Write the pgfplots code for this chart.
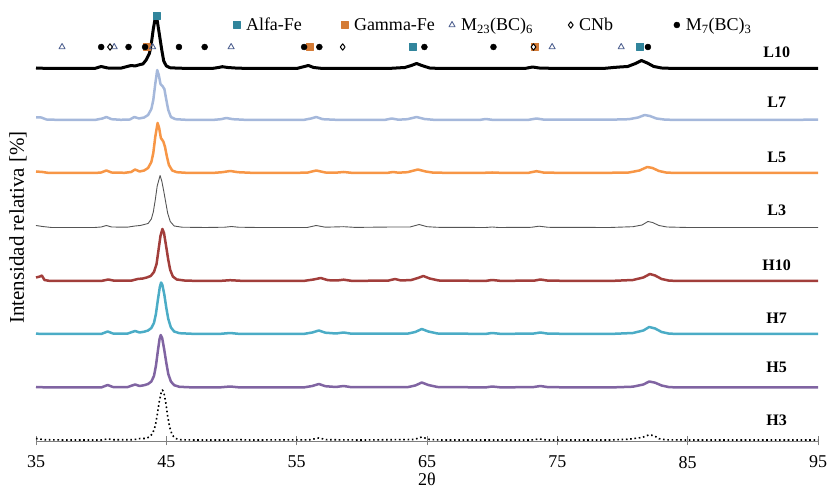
\documentclass[border=0pt]{standalone}
\usepackage{fontspec}
\setmainfont{Liberation Serif}
\usepackage{pgfplots}
\pgfplotsset{compat=1.18}
\definecolor{alfa}{HTML}{31859C}
\definecolor{gamma}{HTML}{D47B36}
\definecolor{tri}{HTML}{4F6190}
\definecolor{cL7}{HTML}{A5B8DB}
\definecolor{cL5}{HTML}{F79646}
\definecolor{cL3}{HTML}{555555}
\definecolor{cH10}{HTML}{A23E3B}
\definecolor{cH7}{HTML}{4BACC6}
\definecolor{cH5}{HTML}{8064A2}
\newcommand{\fs}{\fontsize{18}{20}\selectfont}
\newcommand{\lb}{\fontsize{16}{18}\selectfont\bfseries}
\begin{document}
\begin{tikzpicture}
\useasboundingbox (-36pt,-48pt) rectangle (791pt,441pt);
\begin{axis}[
  at={(0pt,0pt)}, anchor=south west,
  scale only axis, width=782pt, height=441pt,
  xmin=35, xmax=95, ymin=-1, ymax=440,
  axis x line*=bottom, axis y line=none,
  clip=false,
  xtick={35,45,55,65,75,85,95},
  tick align=center, major tick length=9pt,
  tick style={color=gray, line width=0.8pt},
  axis line style={color=gray, line width=0.8pt},
  /pgf/number format/assume math mode=true,
  tick label style={font=\fs, text=black},
  xticklabel style={yshift=-7pt},
  xlabel={2θ},
  xlabel style={font=\fs, at={(axis description cs:0.5,0)}, anchor=center, yshift=-38pt},
  legend columns=5,
  legend style={at={(axis cs:50.1,415)}, anchor=west, draw=none, fill=none, inner sep=0pt, font=\fs, /tikz/every even column/.append style={column sep=0pt}},
  legend cell align=left,
  every axis plot/.append style={line join=round},
]
% L10
\addplot[forget plot, black, line width=3pt] coordinates {(35,372)(36,371.5)(37,371.5)(38,371.5)(39.5,371.5)(40.0,373.5)(40.5,372)(41.5,371.8)(42.0,373.5)(42.3,374.5)(42.6,374)(43.0,375.5)(43.2,376)(43.45,380)(43.7,386.5)(43.85,396.5)(44.0,411)(44.13,420.5)(44.2,422)(44.3,419.5)(44.45,407)(44.65,390)(44.8,379)(45.0,374)(45.3,372.2)(46,371.8)(47,371.5)(48.5,371.5)(49.0,372.5)(49.3,373.3)(49.7,372.5)(50.5,371.8)(52,371.5)(55,371.5)(55.6,373.5)(55.9,374.5)(56.3,372.5)(57,371.5)(59,371.5)(62,371.5)(63.3,372.5)(63.8,374.5)(64.2,376.5)(64.6,374.5)(65.2,372)(66,371.5)(70,371.5)(72.5,371.5)(73.1,373)(73.6,372)(75,371.5)(78.5,371.5)(79.3,372.5)(79.8,373)(80.4,373.5)(81.0,376.5)(81.45,379.5)(81.9,377)(82.4,373.5)(83,372)(84,371.5)(90,371.5)(95,371.5)};
% L7
\addplot[forget plot, cL7, line width=2.5pt] coordinates {(35,322.5)(35.4,322.5)(35.8,320.5)(37,320)(39.5,320)(40.1,321.5)(40.4,323)(40.8,320.8)(41.5,320.2)(42.2,320.5)(42.55,323)(42.9,321.5)(43.3,322.5)(43.6,325)(43.85,331)(44.0,340)(44.15,356)(44.3,370)(44.42,365)(44.55,356)(44.7,354)(44.85,351)(45.0,340)(45.15,330)(45.35,323)(45.7,320.8)(46.5,320.2)(48.5,320)(49.2,320.8)(49.6,322)(50.1,320.8)(51,320.2)(53,320)(55.5,320)(56.1,321.5)(56.5,323)(57,320.8)(58,320.2)(61.8,320.2)(62.3,321.5)(62.8,320.3)(63.5,320.8)(64.2,323)(64.8,321)(65.5,320.2)(69,320)(69.5,321)(70,320.2)(72.8,320.2)(73.4,321.5)(74,320.3)(79,320.3)(80.5,320.8)(81.2,322.5)(81.7,325)(82.1,324)(82.6,321.5)(83.3,320.3)(85,320)(90,320)(93,320.2)(95,320.3)};
% L5
\addplot[forget plot, cL5, line width=2.5pt] coordinates {(35,268.5)(35.5,268)(36,267)(39.5,267)(40.0,267.5)(40.4,269.5)(40.8,267.5)(41.8,267.2)(42.3,268)(42.6,270.5)(42.95,268.5)(43.3,269.5)(43.6,272)(43.85,278)(44.0,287)(44.15,303)(44.33,317)(44.45,312)(44.58,302)(44.77,298.5)(44.9,293)(45.05,283)(45.2,275)(45.45,269.5)(45.8,267.8)(46.5,267.2)(48.5,267)(49.3,267.8)(49.9,269)(50.5,267.8)(51.5,267.2)(53,267)(55.8,267.3)(56.5,269.5)(57.2,267.5)(58,267.3)(58.6,268)(59.2,267.2)(62,267.2)(62.4,268)(62.8,267.3)(63.5,267.8)(64.3,270.5)(64.9,268.5)(65.5,267.3)(69,267)(70,267.5)(71,267)(72.8,267.2)(73.4,268.8)(74,267.3)(78,267)(80.5,267.5)(81.3,269.5)(81.9,273)(82.3,272)(82.8,269)(83.4,267.3)(85,267)(95,267)};
% L3
\addplot[forget plot, cL3, line width=0.9pt] coordinates {(35,214.5)(35.5,213.5)(36.2,212.5)(39.5,212.5)(40.0,213)(40.4,214.5)(40.8,213)(42,212.8)(42.6,214)(43.0,214.5)(43.3,215.5)(43.6,216.5)(43.85,221)(44.0,228)(44.15,240)(44.3,254)(44.52,264.5)(44.65,259)(44.8,249)(44.95,238)(45.1,227)(45.3,218.5)(45.6,214)(46.2,212.8)(48,212.5)(49.5,212.8)(50,213.5)(50.5,212.8)(52,212.5)(55.8,212.5)(56.5,214.5)(57.2,212.8)(58.6,213.3)(59.5,212.6)(62.3,213)(63.7,213)(64.4,215.5)(65,213.3)(65.8,212.7)(69.5,212.5)(70,213)(70.5,212.5)(73,212.7)(73.6,213.8)(74.3,212.7)(79,212.5)(80.8,213.3)(81.5,215)(81.95,218.5)(82.3,217.5)(82.8,214.5)(83.4,213)(85,212.5)(95,212.5)};
% H10
\addplot[forget plot, cH10, line width=2.5pt] coordinates {(35,162.5)(35.3,163.5)(35.45,164.5)(35.65,160)(36,159.2)(38,159)(40,159)(40.55,160.5)(41,159.3)(42.3,159.3)(42.8,161)(43.2,161.5)(43.5,162.5)(43.8,164)(44.05,168)(44.25,176)(44.4,190)(44.55,204)(44.7,211)(44.82,207)(44.97,195)(45.15,180)(45.3,170)(45.5,163.5)(45.8,160.5)(46.5,159.3)(49,159)(49.9,159.8)(51,159)(55.5,159)(56.3,160.5)(56.85,162)(57.4,159.8)(58.1,159.5)(58.6,160.3)(59.2,159.2)(62,159.3)(62.55,161)(63,159.5)(63.8,160)(64.3,162)(64.72,164)(65.2,161.5)(65.9,159.5)(69.5,159.1)(70,160)(70.6,159.2)(73.2,159.3)(73.7,160.5)(74.3,159.3)(79,159)(80.8,160)(81.6,162.5)(82.1,166)(82.5,164.5)(83,161)(83.6,159.3)(85,159)(95,159)};
% H7
\addplot[forget plot, cH7, line width=2.5pt] coordinates {(35,106.3)(36,106)(40,106)(40.5,108.5)(40.9,106.5)(42,106.3)(42.6,109)(42.95,107.5)(43.3,108.3)(43.6,109.5)(43.85,112)(44.05,117)(44.2,126)(44.35,140)(44.5,153)(44.6,157.5)(44.7,155)(44.85,145)(45.0,132)(45.15,121)(45.35,112.5)(45.6,108.5)(46,106.8)(47,106.2)(49,106)(49.9,107)(50.6,106.1)(55.5,106)(56.2,107.5)(56.7,109.5)(57.2,107.3)(58,106.5)(58.6,107.5)(59.2,106.3)(63.5,106.3)(64.1,108)(64.6,111)(65.1,108.5)(65.8,106.5)(69.5,106.1)(70,107)(70.6,106.2)(73.1,106.3)(73.7,107.5)(74.3,106.3)(79,106)(80.8,107)(81.6,109.5)(82.05,113)(82.5,111.5)(83,108)(83.6,106.3)(85,106)(95,106)};
% H5
\addplot[forget plot, cH5, line width=2.5pt] coordinates {(35,53)(36,52.5)(40,52.5)(40.5,55)(40.9,53)(42,52.8)(42.6,55.5)(42.95,54)(43.3,54.8)(43.6,56)(43.85,58.5)(44.05,64)(44.2,74)(44.35,89)(44.48,101)(44.57,105)(44.68,102)(44.83,91)(45.0,77)(45.15,66)(45.35,58.5)(45.6,54.8)(46,53.2)(47,52.6)(49,52.5)(49.9,53.5)(50.6,52.6)(55.5,52.5)(56.2,54)(56.7,56)(57.2,53.8)(58,53)(58.6,54)(59.2,52.8)(63.5,52.8)(64.1,54.5)(64.6,57.5)(65.1,55)(65.8,53)(69.5,52.6)(70,53.5)(70.6,52.7)(73.1,52.8)(73.7,54)(74.3,52.8)(79,52.5)(80.8,53.3)(81.6,55.5)(82.05,58.5)(82.5,57.3)(83,54.5)(83.6,52.8)(85,52.5)(95,52.7)};
% H3
\addplot[forget plot, black, line width=1.6pt, dash pattern=on 1.6pt off 2.7pt] coordinates {(35,1.5)(35.6,0.3)(37,0)(40,0)(40.5,1)(41,0.2)(42.5,0.3)(43,1.5)(43.4,1.5)(43.7,3)(43.95,6.5)(44.15,14)(44.3,25)(44.45,38)(44.6,47)(44.7,50)(44.8,48)(44.95,38)(45.1,24)(45.25,13)(45.45,5)(45.7,1.5)(46.1,0.3)(47,0)(50,0)(50.5,0.4)(51.5,0)(56,0.2)(56.7,2)(57.3,0.3)(60,0)(64,0.5)(64.6,3)(65.2,0.5)(66,0)(73,0)(73.6,1)(74.2,0)(79,0)(80.5,0.8)(81.5,2.5)(82,5)(82.4,4.5)(82.8,1.3)(83.3,0.2)(85,0)(95,0)};
% phase markers
\addplot[only marks, mark=square*, mark size=3.5pt, color=alfa] coordinates {(44.26,424)(63.9,393)(81.35,393)};
\addlegendentry{\makebox[97pt][l]{\hspace{4pt}Alfa-Fe}}
\addplot[only marks, mark=square*, mark size=3.5pt, color=gamma] coordinates {(43.5,393)(55.98,393)(73.3,393)};
\addlegendentry{\makebox[97pt][l]{\hspace{4pt}Gamma-Fe}}
\addplot[only marks, mark=triangle, mark size=3.5pt, color=tri, mark options={line width=0.9pt}] coordinates {(37.0,393)(41.0,393)(43.95,393)(49.97,393)(74.6,393)(79.9,393)};
\addlegendentry{\makebox[109.3pt][l]{\hspace{4pt}M\textsubscript{23}(BC)\textsubscript{6}}}
\addplot[only marks, mark=diamond*, mark size=3.2pt, color=black, mark options={fill=white, line width=1pt}] coordinates {(40.68,393)(58.53,393)(73.17,393)};
\addlegendentry{\makebox[96.7pt][l]{\hspace{4pt}CNb}}
\addplot[only marks, mark=*, mark size=3pt, color=black] coordinates {(40.0,393)(42.1,393)(43.37,393)(45.97,393)(47.94,393)(55.57,393)(56.74,393)(64.8,393)(70.1,393)(81.95,393)};
\addlegendentry{\hspace{4pt}M\textsubscript{7}(BC)\textsubscript{3}}
% curve labels
\node[font=\lb] at (axis cs:91.83,387.3) {L10};
\node[font=\lb] at (axis cs:91.83,337.3) {L7};
\node[font=\lb] at (axis cs:91.83,282.3) {L5};
\node[font=\lb] at (axis cs:91.83,230) {L3};
\node[font=\lb] at (axis cs:91.83,175) {H10};
\node[font=\lb] at (axis cs:91.83,122) {H7};
\node[font=\lb] at (axis cs:91.83,73) {H5};
\node[font=\lb] at (axis cs:91.83,20) {H3};
\node[font=\fontsize{21}{23}\selectfont, rotate=90] at (axis description cs:-0.023,0.484) {Intensidad relativa [\%]};
\end{axis}
\end{tikzpicture}
\end{document}
